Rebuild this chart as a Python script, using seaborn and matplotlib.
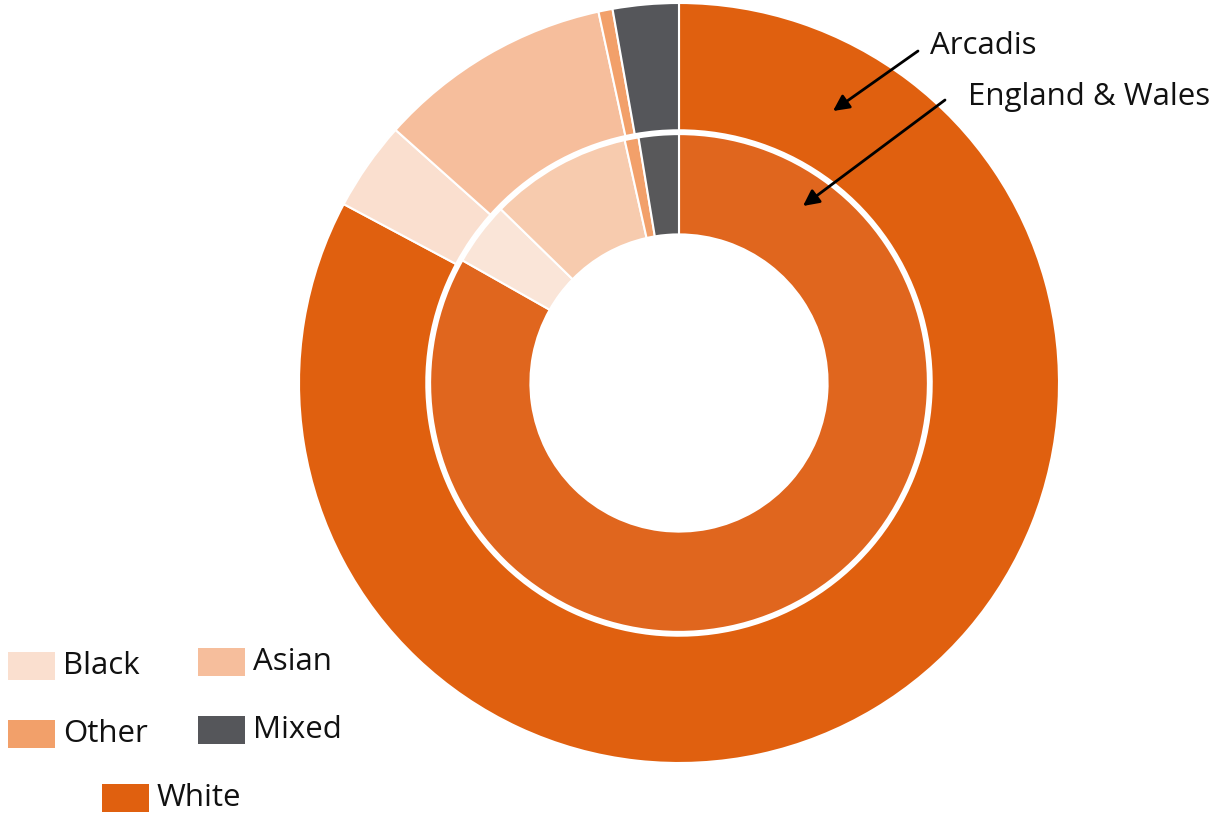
import matplotlib
matplotlib.use("Agg")
import matplotlib.pyplot as plt
from matplotlib.patches import Rectangle
import seaborn as sns

sns.set_theme(style="white")
plt.rcParams['font.family'] = ['Open Sans', 'DejaVu Sans']

categories = ["White", "Black", "Asian", "Other", "Mixed"]
arcadis = [82.8, 3.8, 10.0, 0.6, 2.8]
england_wales = [83.2, 4.1, 9.2, 0.9, 2.6]

outer_colors = ["#E0600F", "#FADFCF", "#F6BE9C", "#F2A06A", "#55565A"]
inner_colors = ["#E0661E", "#FAE5D8", "#F7CBAE", "#F2A06A", "#58585A"]

W, H = 1215, 814
fig = plt.figure(figsize=(W / 100, H / 100), dpi=100)
cx, cy, R = 679, 383, 380
ax = fig.add_axes([(cx - R) / W, (H - cy - R) / H, 2 * R / W, 2 * R / H])

ax.pie(arcadis, radius=1.0, colors=outer_colors, startangle=90, counterclock=False,
       wedgeprops=dict(width=0.335, edgecolor="white", linewidth=1.5))
ax.pie(england_wales, radius=0.655, colors=inner_colors, startangle=90, counterclock=False,
       wedgeprops=dict(width=0.264, edgecolor="white", linewidth=1.5))
ax.set_xlim(-1, 1)
ax.set_ylim(-1, 1)
ax.set_aspect("equal")
ax.axis("off")

def d(px, py):
    return ((px - cx) / R, (cy - py) / R)

FS = 22.5
arrow = dict(arrowstyle="-|>", color="black", lw=2, mutation_scale=24, shrinkA=0, shrinkB=0)
ax.annotate("", xy=d(833, 111), xytext=d(918, 51), annotation_clip=False, arrowprops=arrow)
ax.annotate("", xy=d(803, 206), xytext=d(945, 100), annotation_clip=False, arrowprops=arrow)
ax.text(*d(930, 46), "Arcadis", fontsize=FS, va="center", ha="left", color="#111111")
ax.text(*d(968, 97), "England & Wales", fontsize=FS, va="center", ha="left", color="#111111")

# legend (custom layout)
legend_pos = {"Black": (8, 652), "Asian": (198, 648), "Other": (8, 720),
              "Mixed": (198, 716), "White": (102, 784)}
for cat, col in zip(categories, outer_colors):
    x0, y0 = legend_pos[cat]
    fig.patches.append(Rectangle((x0 / W, (H - y0 - 28) / H), 47 / W, 28 / H,
                                 transform=fig.transFigure, facecolor=col,
                                 edgecolor="none"))
    fig.text((x0 + 55) / W, (H - y0 - 14) / H, cat, fontsize=FS, va="center",
             ha="left", color="#111111")

fig.savefig("out.png", dpi=100)
